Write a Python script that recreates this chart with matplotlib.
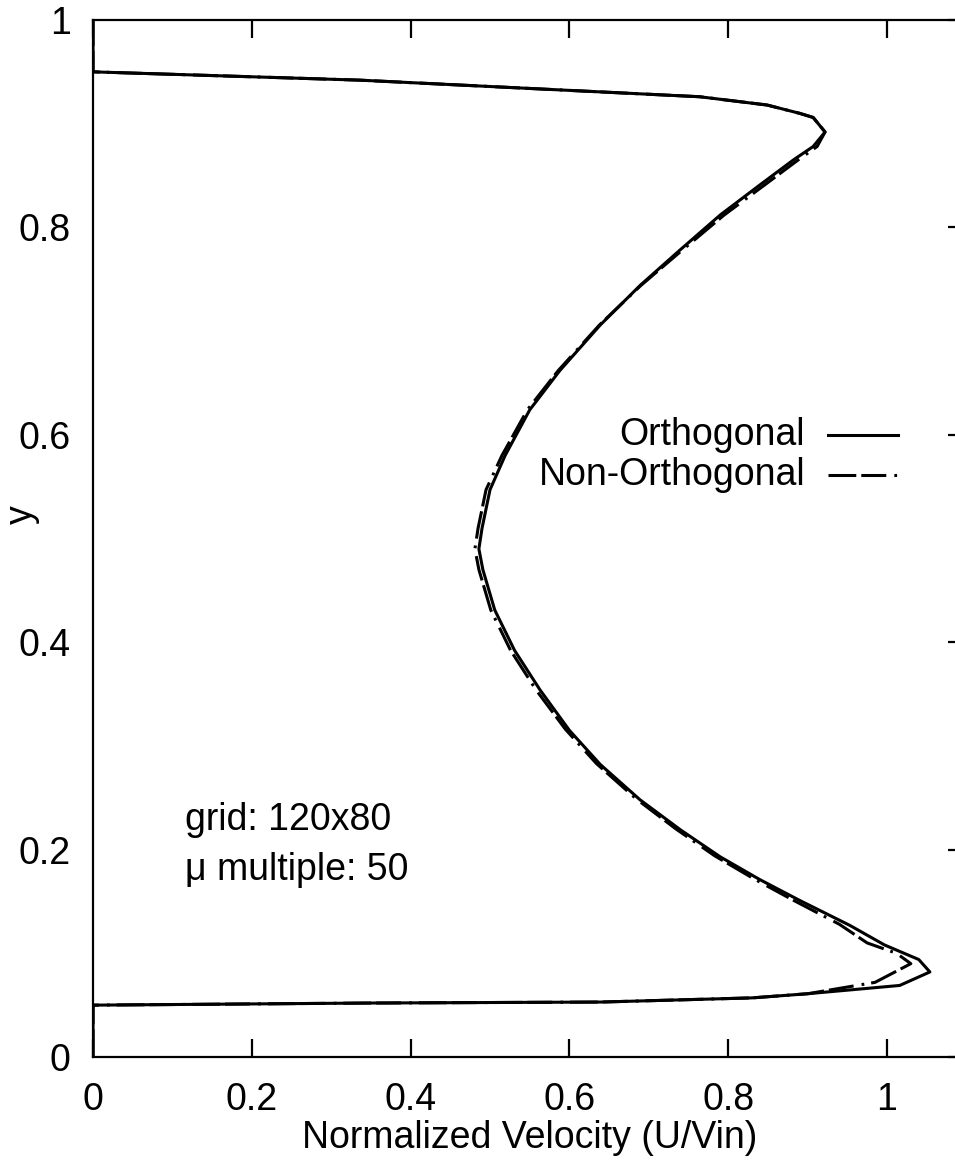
import matplotlib
matplotlib.use("Agg")
import matplotlib.pyplot as plt
from matplotlib.lines import Line2D

plt.rcParams['font.family'] = ['Liberation Sans', 'DejaVu Sans']
plt.rcParams['lines.scale_dashes'] = False

# Velocity profiles across the channel (U/Vin vs y)
ortho_u = [0.0, 0.0, 0.34, 0.64, 0.83, 0.90, 1.016, 1.054, 1.04, 0.997, 0.953, 0.89,
           0.84, 0.79, 0.74, 0.689, 0.639, 0.60, 0.563, 0.531, 0.506, 0.491, 0.486,
           0.490, 0.50, 0.519, 0.55, 0.588, 0.639, 0.689, 0.739, 0.79, 0.84,
           0.882, 0.907, 0.922, 0.907, 0.890, 0.849, 0.764, 0.336, 0.0, 0.0]
ortho_y = [0.0, 0.050, 0.052, 0.053, 0.057, 0.061, 0.069, 0.082, 0.094, 0.108, 0.127, 0.151,
           0.171, 0.193, 0.219, 0.248, 0.282, 0.315, 0.354, 0.392, 0.431, 0.470, 0.490,
           0.510, 0.547, 0.580, 0.624, 0.662, 0.706, 0.744, 0.778, 0.812, 0.841,
           0.865, 0.878, 0.892, 0.906, 0.910, 0.918, 0.926, 0.942, 0.950, 1.0]

nonortho_u = [0.0, 0.0, 0.34, 0.64, 0.83, 0.90, 0.985, 1.03, 1.012, 0.975, 0.94, 0.88,
              0.832, 0.783, 0.734, 0.684, 0.634, 0.595, 0.558, 0.526, 0.501, 0.486, 0.481,
              0.485, 0.495, 0.515, 0.547, 0.586, 0.638, 0.690, 0.742, 0.795, 0.846,
              0.888, 0.912, 0.922, 0.907, 0.890, 0.849, 0.764, 0.336, 0.0, 0.0]
nonortho_y = [0.0, 0.050, 0.052, 0.053, 0.057, 0.061, 0.072, 0.090, 0.100, 0.110, 0.128, 0.152,
              0.172, 0.194, 0.220, 0.249, 0.283, 0.316, 0.354, 0.392, 0.431, 0.470, 0.490,
              0.510, 0.547, 0.580, 0.624, 0.662, 0.706, 0.744, 0.778, 0.812, 0.841,
              0.865, 0.878, 0.892, 0.906, 0.910, 0.918, 0.926, 0.942, 0.950, 1.0]

x_ticks = [0, 0.2, 0.4, 0.6, 0.8, 1.0]
x_tick_labels = ['0', '0.2', '0.4', '0.6', '0.8', '1']
y_ticks = [0, 0.2, 0.4, 0.6, 0.8, 1.0]
y_tick_labels = ['0', '0.2', '0.4', '0.6', '0.8', '1']

W, H = 955, 1163
AX_W = 1.1 * 794
fig = plt.figure(figsize=(W / 100, H / 100), dpi=100)
ax = fig.add_axes([93 / W, (H - 1057) / H, AX_W / W, 1037 / H])

FS = 27
dash_style = (0, (20, 3.6, 18, 5.8, 2, 5))
ax.plot(nonortho_u, nonortho_y, color='black', lw=2.2, linestyle=dash_style)
ax.plot(ortho_u, ortho_y, color='black', lw=2.2)

ax.set_xlim(0, 1.1)
ax.set_ylim(0, 1)
ax.set_xticks(x_ticks)
ax.set_xticklabels(x_tick_labels)
ax.set_yticks(y_ticks)
ax.set_yticklabels(y_tick_labels)

for s in ax.spines.values():
    s.set_linewidth(1.6)
ax.tick_params(direction='in', length=13, width=1.6, labelsize=FS,
               top=True, right=True, left=False, bottom=True)
ax.tick_params(axis='x', pad=18)
ax.tick_params(axis='y', pad=16)

ax.set_xlabel('Normalized Velocity (U/Vin)', fontsize=FS)
ax.xaxis.set_label_coords(0.5, -(1120 - 1057) / 1037)
ax.set_ylabel('y', fontsize=FS)
ax.yaxis.set_label_coords(-(93 - 40) / AX_W, 0.523)

# Legend: label text right-aligned, line sample to the right
leg_rows = [('Orthogonal', '-', (1057 - 435) / 1037),
            ('Non-Orthogonal', dash_style, (1057 - 475) / 1037)]
for label, ls, yy in leg_rows:
    ax.text((805 - 93) / AX_W, yy, label, transform=ax.transAxes,
            ha='right', va='center', fontsize=FS)
    ax.add_line(Line2D([(828 - 93) / AX_W, (898 - 93) / AX_W], [yy, yy],
                       transform=ax.transAxes, color='black', lw=2.2, linestyle=ls))

ax.text((185 - 93) / AX_W, (1057 - 830) / 1037, 'grid: 120x80', transform=ax.transAxes,
        ha='left', va='baseline', fontsize=FS)
ax.text((185 - 93) / AX_W, (1057 - 880) / 1037, 'μ multiple: 50', transform=ax.transAxes,
        ha='left', va='baseline', fontsize=FS)

fig.savefig('out.png', dpi=100)
